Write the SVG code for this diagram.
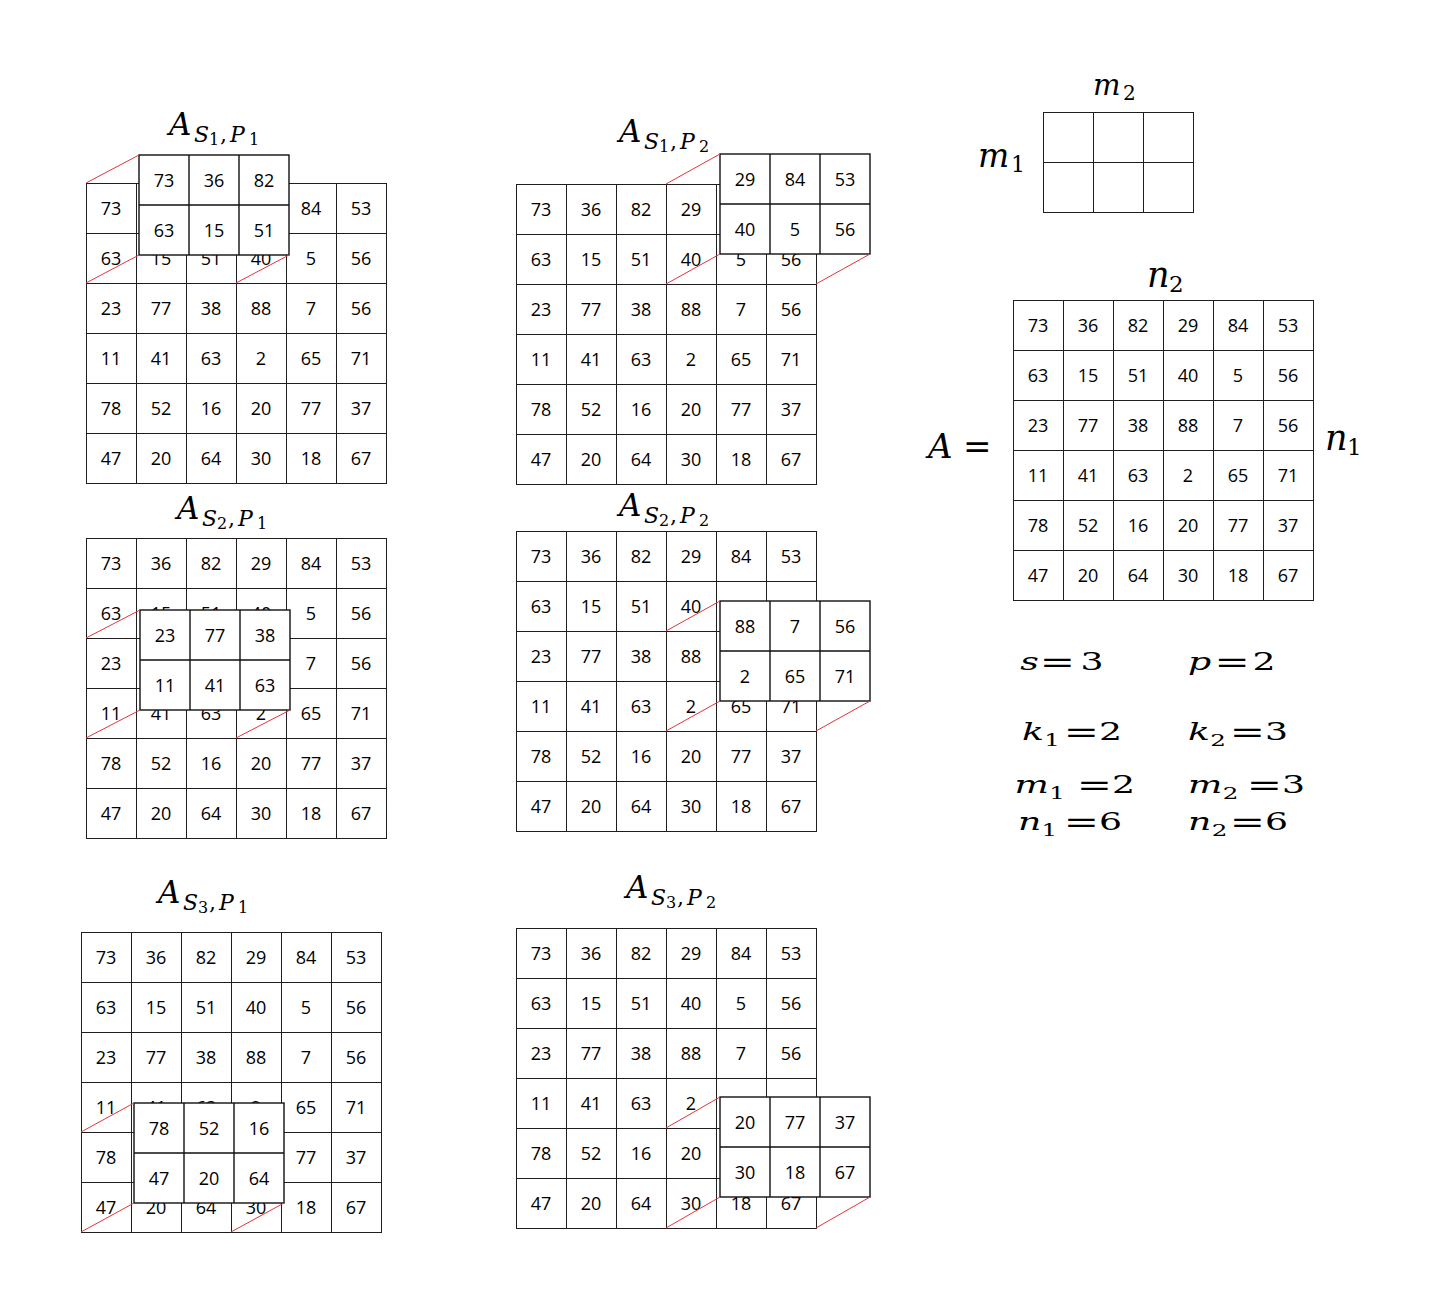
<svg xmlns="http://www.w3.org/2000/svg" width="1440" height="1301" viewBox="0 0 1440 1301">
<style>
.g{fill:none;stroke:#1e1e1e;stroke-width:1;shape-rendering:crispEdges}
.o{fill:#fff;stroke:#111;stroke-width:1.4}
.ol{fill:none;stroke:#111;stroke-width:1.4}
.c{font-family:'Open Sans','Liberation Sans',sans-serif;font-size:18px;text-anchor:middle;fill:#000}
.r{stroke:#e0353d;stroke-width:1;fill:none}
.mt{font-family:'DejaVu Serif',serif;fill:#000}
.i{font-style:italic}
</style>
<rect width="1440" height="1301" fill="#fff"/>

<!-- Titles -->
<g id="title-s1p1"><text class="mt" x="169" y="135"><tspan class="i" font-size="31">A</tspan><tspan class="i" font-size="22" x="194" y="142">S</tspan><tspan font-size="16" x="209" y="145">1</tspan><tspan font-size="22" x="220" y="142">,</tspan><tspan class="i" font-size="22" x="230" y="142">P</tspan><tspan font-size="16" x="249" y="145">1</tspan></text></g>
<g id="title-s1p2"><text class="mt" x="619" y="142"><tspan class="i" font-size="31">A</tspan><tspan class="i" font-size="22" x="644" y="149">S</tspan><tspan font-size="16" x="659" y="152">1</tspan><tspan font-size="22" x="670" y="149">,</tspan><tspan class="i" font-size="22" x="680" y="149">P</tspan><tspan font-size="16" x="699" y="152">2</tspan></text></g>
<g id="title-s2p1"><text class="mt" x="177" y="519"><tspan class="i" font-size="31">A</tspan><tspan class="i" font-size="22" x="202" y="526">S</tspan><tspan font-size="16" x="217" y="529">2</tspan><tspan font-size="22" x="228" y="526">,</tspan><tspan class="i" font-size="22" x="238" y="526">P</tspan><tspan font-size="16" x="257" y="529">1</tspan></text></g>
<g id="title-s2p2"><text class="mt" x="619" y="516"><tspan class="i" font-size="31">A</tspan><tspan class="i" font-size="22" x="644" y="523">S</tspan><tspan font-size="16" x="659" y="526">2</tspan><tspan font-size="22" x="670" y="523">,</tspan><tspan class="i" font-size="22" x="680" y="523">P</tspan><tspan font-size="16" x="699" y="526">2</tspan></text></g>
<g id="title-s3p1"><text class="mt" x="158" y="903"><tspan class="i" font-size="31">A</tspan><tspan class="i" font-size="22" x="183" y="910">S</tspan><tspan font-size="16" x="198" y="913">3</tspan><tspan font-size="22" x="209" y="910">,</tspan><tspan class="i" font-size="22" x="219" y="910">P</tspan><tspan font-size="16" x="238" y="913">1</tspan></text></g>
<g id="title-s3p2"><text class="mt" x="626" y="898"><tspan class="i" font-size="31">A</tspan><tspan class="i" font-size="22" x="651" y="905">S</tspan><tspan font-size="16" x="666" y="908">3</tspan><tspan font-size="22" x="677" y="905">,</tspan><tspan class="i" font-size="22" x="687" y="905">P</tspan><tspan font-size="16" x="706" y="908">2</tspan></text></g>

<!-- Grid S1,P1 -->
<g id="grid-s1p1">
<path class="g" d="M86 183h300v300h-300zM136 183v300M186 183v300M236 183v300M286 183v300M336 183v300M86 233h300M86 283h300M86 333h300M86 383h300M86 433h300"/>
<text class="c" x="111" y="215">73</text><text class="c" x="311" y="215">84</text><text class="c" x="361" y="215">53</text>
<text class="c" x="111" y="265">63</text><text class="c" x="161" y="265">15</text><text class="c" x="211" y="265">51</text><text class="c" x="261" y="265">40</text><text class="c" x="311" y="265">5</text><text class="c" x="361" y="265">56</text>
<text class="c" x="111" y="315">23</text><text class="c" x="161" y="315">77</text><text class="c" x="211" y="315">38</text><text class="c" x="261" y="315">88</text><text class="c" x="311" y="315">7</text><text class="c" x="361" y="315">56</text>
<text class="c" x="111" y="365">11</text><text class="c" x="161" y="365">41</text><text class="c" x="211" y="365">63</text><text class="c" x="261" y="365">2</text><text class="c" x="311" y="365">65</text><text class="c" x="361" y="365">71</text>
<text class="c" x="111" y="415">78</text><text class="c" x="161" y="415">52</text><text class="c" x="211" y="415">16</text><text class="c" x="261" y="415">20</text><text class="c" x="311" y="415">77</text><text class="c" x="361" y="415">37</text>
<text class="c" x="111" y="465">47</text><text class="c" x="161" y="465">20</text><text class="c" x="211" y="465">64</text><text class="c" x="261" y="465">30</text><text class="c" x="311" y="465">18</text><text class="c" x="361" y="465">67</text>
</g>
<g id="window-s1p1">
<rect class="o" x="139" y="155" width="150" height="100"/>
<path class="ol" d="M189 155v100M239 155v100M139 205h150"/>
<text class="c" x="164" y="187">73</text><text class="c" x="214" y="187">36</text><text class="c" x="264" y="187">82</text>
<text class="c" x="164" y="237">63</text><text class="c" x="214" y="237">15</text><text class="c" x="264" y="237">51</text>
</g>

<!-- Grid S1,P2 -->
<g id="grid-s1p2">
<path class="g" d="M516 184h300v300h-300zM566 184v300M616 184v300M666 184v300M716 184v300M766 184v300M516 234h300M516 284h300M516 334h300M516 384h300M516 434h300"/>
<text class="c" x="541" y="216">73</text><text class="c" x="591" y="216">36</text><text class="c" x="641" y="216">82</text><text class="c" x="691" y="216">29</text>
<text class="c" x="541" y="266">63</text><text class="c" x="591" y="266">15</text><text class="c" x="641" y="266">51</text><text class="c" x="691" y="266">40</text><text class="c" x="741" y="266">5</text><text class="c" x="791" y="266">56</text>
<text class="c" x="541" y="316">23</text><text class="c" x="591" y="316">77</text><text class="c" x="641" y="316">38</text><text class="c" x="691" y="316">88</text><text class="c" x="741" y="316">7</text><text class="c" x="791" y="316">56</text>
<text class="c" x="541" y="366">11</text><text class="c" x="591" y="366">41</text><text class="c" x="641" y="366">63</text><text class="c" x="691" y="366">2</text><text class="c" x="741" y="366">65</text><text class="c" x="791" y="366">71</text>
<text class="c" x="541" y="416">78</text><text class="c" x="591" y="416">52</text><text class="c" x="641" y="416">16</text><text class="c" x="691" y="416">20</text><text class="c" x="741" y="416">77</text><text class="c" x="791" y="416">37</text>
<text class="c" x="541" y="466">47</text><text class="c" x="591" y="466">20</text><text class="c" x="641" y="466">64</text><text class="c" x="691" y="466">30</text><text class="c" x="741" y="466">18</text><text class="c" x="791" y="466">67</text>
</g>
<g id="window-s1p2">
<rect class="o" x="720" y="154" width="150" height="100"/>
<path class="ol" d="M770 154v100M820 154v100M720 204h150"/>
<text class="c" x="745" y="186">29</text><text class="c" x="795" y="186">84</text><text class="c" x="845" y="186">53</text>
<text class="c" x="745" y="236">40</text><text class="c" x="795" y="236">5</text><text class="c" x="845" y="236">56</text>
</g>

<!-- Grid S2,P1 -->
<g id="grid-s2p1">
<path class="g" d="M86 538h300v300h-300zM136 538v300M186 538v300M236 538v300M286 538v300M336 538v300M86 588h300M86 638h300M86 688h300M86 738h300M86 788h300"/>
<text class="c" x="111" y="570">73</text><text class="c" x="161" y="570">36</text><text class="c" x="211" y="570">82</text><text class="c" x="261" y="570">29</text><text class="c" x="311" y="570">84</text><text class="c" x="361" y="570">53</text>
<text class="c" x="111" y="620">63</text><text class="c" x="161" y="620">15</text><text class="c" x="211" y="620">51</text><text class="c" x="261" y="620">40</text><text class="c" x="311" y="620">5</text><text class="c" x="361" y="620">56</text>
<text class="c" x="111" y="670">23</text><text class="c" x="311" y="670">7</text><text class="c" x="361" y="670">56</text>
<text class="c" x="111" y="720">11</text><text class="c" x="161" y="720">41</text><text class="c" x="211" y="720">63</text><text class="c" x="261" y="720">2</text><text class="c" x="311" y="720">65</text><text class="c" x="361" y="720">71</text>
<text class="c" x="111" y="770">78</text><text class="c" x="161" y="770">52</text><text class="c" x="211" y="770">16</text><text class="c" x="261" y="770">20</text><text class="c" x="311" y="770">77</text><text class="c" x="361" y="770">37</text>
<text class="c" x="111" y="820">47</text><text class="c" x="161" y="820">20</text><text class="c" x="211" y="820">64</text><text class="c" x="261" y="820">30</text><text class="c" x="311" y="820">18</text><text class="c" x="361" y="820">67</text>
</g>
<g id="window-s2p1">
<rect class="o" x="140" y="610" width="150" height="100"/>
<path class="ol" d="M190 610v100M240 610v100M140 660h150"/>
<text class="c" x="165" y="642">23</text><text class="c" x="215" y="642">77</text><text class="c" x="265" y="642">38</text>
<text class="c" x="165" y="692">11</text><text class="c" x="215" y="692">41</text><text class="c" x="265" y="692">63</text>
</g>

<!-- Grid S2,P2 -->
<g id="grid-s2p2">
<path class="g" d="M516 531h300v300h-300zM566 531v300M616 531v300M666 531v300M716 531v300M766 531v300M516 581h300M516 631h300M516 681h300M516 731h300M516 781h300"/>
<text class="c" x="541" y="563">73</text><text class="c" x="591" y="563">36</text><text class="c" x="641" y="563">82</text><text class="c" x="691" y="563">29</text><text class="c" x="741" y="563">84</text><text class="c" x="791" y="563">53</text>
<text class="c" x="541" y="613">63</text><text class="c" x="591" y="613">15</text><text class="c" x="641" y="613">51</text><text class="c" x="691" y="613">40</text>
<text class="c" x="541" y="663">23</text><text class="c" x="591" y="663">77</text><text class="c" x="641" y="663">38</text><text class="c" x="691" y="663">88</text>
<text class="c" x="541" y="713">11</text><text class="c" x="591" y="713">41</text><text class="c" x="641" y="713">63</text><text class="c" x="691" y="713">2</text><text class="c" x="741" y="713">65</text><text class="c" x="791" y="713">71</text>
<text class="c" x="541" y="763">78</text><text class="c" x="591" y="763">52</text><text class="c" x="641" y="763">16</text><text class="c" x="691" y="763">20</text><text class="c" x="741" y="763">77</text><text class="c" x="791" y="763">37</text>
<text class="c" x="541" y="813">47</text><text class="c" x="591" y="813">20</text><text class="c" x="641" y="813">64</text><text class="c" x="691" y="813">30</text><text class="c" x="741" y="813">18</text><text class="c" x="791" y="813">67</text>
</g>
<g id="window-s2p2">
<rect class="o" x="720" y="601" width="150" height="100"/>
<path class="ol" d="M770 601v100M820 601v100M720 651h150"/>
<text class="c" x="745" y="633">88</text><text class="c" x="795" y="633">7</text><text class="c" x="845" y="633">56</text>
<text class="c" x="745" y="683">2</text><text class="c" x="795" y="683">65</text><text class="c" x="845" y="683">71</text>
</g>

<!-- Grid S3,P1 -->
<g id="grid-s3p1">
<path class="g" d="M81 932h300v300h-300zM131 932v300M181 932v300M231 932v300M281 932v300M331 932v300M81 982h300M81 1032h300M81 1082h300M81 1132h300M81 1182h300"/>
<text class="c" x="106" y="964">73</text><text class="c" x="156" y="964">36</text><text class="c" x="206" y="964">82</text><text class="c" x="256" y="964">29</text><text class="c" x="306" y="964">84</text><text class="c" x="356" y="964">53</text>
<text class="c" x="106" y="1014">63</text><text class="c" x="156" y="1014">15</text><text class="c" x="206" y="1014">51</text><text class="c" x="256" y="1014">40</text><text class="c" x="306" y="1014">5</text><text class="c" x="356" y="1014">56</text>
<text class="c" x="106" y="1064">23</text><text class="c" x="156" y="1064">77</text><text class="c" x="206" y="1064">38</text><text class="c" x="256" y="1064">88</text><text class="c" x="306" y="1064">7</text><text class="c" x="356" y="1064">56</text>
<text class="c" x="106" y="1114">11</text><text class="c" x="156" y="1114">41</text><text class="c" x="206" y="1114">63</text><text class="c" x="256" y="1114">2</text><text class="c" x="306" y="1114">65</text><text class="c" x="356" y="1114">71</text>
<text class="c" x="106" y="1164">78</text><text class="c" x="306" y="1164">77</text><text class="c" x="356" y="1164">37</text>
<text class="c" x="106" y="1214">47</text><text class="c" x="156" y="1214">20</text><text class="c" x="206" y="1214">64</text><text class="c" x="256" y="1214">30</text><text class="c" x="306" y="1214">18</text><text class="c" x="356" y="1214">67</text>
</g>
<g id="window-s3p1">
<rect class="o" x="134" y="1103" width="150" height="100"/>
<path class="ol" d="M184 1103v100M234 1103v100M134 1153h150"/>
<text class="c" x="159" y="1135">78</text><text class="c" x="209" y="1135">52</text><text class="c" x="259" y="1135">16</text>
<text class="c" x="159" y="1185">47</text><text class="c" x="209" y="1185">20</text><text class="c" x="259" y="1185">64</text>
</g>

<!-- Grid S3,P2 -->
<g id="grid-s3p2">
<path class="g" d="M516 928h300v300h-300zM566 928v300M616 928v300M666 928v300M716 928v300M766 928v300M516 978h300M516 1028h300M516 1078h300M516 1128h300M516 1178h300"/>
<text class="c" x="541" y="960">73</text><text class="c" x="591" y="960">36</text><text class="c" x="641" y="960">82</text><text class="c" x="691" y="960">29</text><text class="c" x="741" y="960">84</text><text class="c" x="791" y="960">53</text>
<text class="c" x="541" y="1010">63</text><text class="c" x="591" y="1010">15</text><text class="c" x="641" y="1010">51</text><text class="c" x="691" y="1010">40</text><text class="c" x="741" y="1010">5</text><text class="c" x="791" y="1010">56</text>
<text class="c" x="541" y="1060">23</text><text class="c" x="591" y="1060">77</text><text class="c" x="641" y="1060">38</text><text class="c" x="691" y="1060">88</text><text class="c" x="741" y="1060">7</text><text class="c" x="791" y="1060">56</text>
<text class="c" x="541" y="1110">11</text><text class="c" x="591" y="1110">41</text><text class="c" x="641" y="1110">63</text><text class="c" x="691" y="1110">2</text>
<text class="c" x="541" y="1160">78</text><text class="c" x="591" y="1160">52</text><text class="c" x="641" y="1160">16</text><text class="c" x="691" y="1160">20</text>
<text class="c" x="541" y="1210">47</text><text class="c" x="591" y="1210">20</text><text class="c" x="641" y="1210">64</text><text class="c" x="691" y="1210">30</text><text class="c" x="741" y="1210">18</text><text class="c" x="791" y="1210">67</text>
</g>
<g id="window-s3p2">
<rect class="o" x="720" y="1097" width="150" height="100"/>
<path class="ol" d="M770 1097v100M820 1097v100M720 1147h150"/>
<text class="c" x="745" y="1129">20</text><text class="c" x="795" y="1129">77</text><text class="c" x="845" y="1129">37</text>
<text class="c" x="745" y="1179">30</text><text class="c" x="795" y="1179">18</text><text class="c" x="845" y="1179">67</text>
</g>

<!-- Kernel m1 x m2 -->
<g id="kernel">
<text class="mt" x="1093" y="95"><tspan class="i" font-size="29">m</tspan><tspan font-size="20" x="1123" y="100">2</tspan></text>
<text class="mt" x="978" y="167"><tspan class="i" font-size="33">m</tspan><tspan font-size="22" x="1011" y="172">1</tspan></text>
<path class="g" d="M1043 112h150v100h-150zM1093 112v100M1143 112v100M1043 162h150" stroke="#444"/>
</g>

<!-- Matrix A -->
<g id="matrix-A">
<text class="mt" x="928" y="458"><tspan class="i" font-size="34">A</tspan><tspan font-size="34" x="963" y="458">=</tspan></text>
<text class="mt" x="1147" y="287"><tspan class="i" font-size="35">n</tspan><tspan font-size="23" x="1169" y="292">2</tspan></text>
<text class="mt" x="1325" y="450"><tspan class="i" font-size="35">n</tspan><tspan font-size="23" x="1347" y="455">1</tspan></text>
<path class="g" d="M1013 300h300v300h-300zM1063 300v300M1113 300v300M1163 300v300M1213 300v300M1263 300v300M1013 350h300M1013 400h300M1013 450h300M1013 500h300M1013 550h300"/>
<text class="c" x="1038" y="332">73</text><text class="c" x="1088" y="332">36</text><text class="c" x="1138" y="332">82</text><text class="c" x="1188" y="332">29</text><text class="c" x="1238" y="332">84</text><text class="c" x="1288" y="332">53</text>
<text class="c" x="1038" y="382">63</text><text class="c" x="1088" y="382">15</text><text class="c" x="1138" y="382">51</text><text class="c" x="1188" y="382">40</text><text class="c" x="1238" y="382">5</text><text class="c" x="1288" y="382">56</text>
<text class="c" x="1038" y="432">23</text><text class="c" x="1088" y="432">77</text><text class="c" x="1138" y="432">38</text><text class="c" x="1188" y="432">88</text><text class="c" x="1238" y="432">7</text><text class="c" x="1288" y="432">56</text>
<text class="c" x="1038" y="482">11</text><text class="c" x="1088" y="482">41</text><text class="c" x="1138" y="482">63</text><text class="c" x="1188" y="482">2</text><text class="c" x="1238" y="482">65</text><text class="c" x="1288" y="482">71</text>
<text class="c" x="1038" y="532">78</text><text class="c" x="1088" y="532">52</text><text class="c" x="1138" y="532">16</text><text class="c" x="1188" y="532">20</text><text class="c" x="1238" y="532">77</text><text class="c" x="1288" y="532">37</text>
<text class="c" x="1038" y="582">47</text><text class="c" x="1088" y="582">20</text><text class="c" x="1138" y="582">64</text><text class="c" x="1188" y="582">30</text><text class="c" x="1238" y="582">18</text><text class="c" x="1288" y="582">67</text>
</g>

<!-- Parameters -->
<g id="params" transform="translate(1000 0) scale(1.45 1)">
<text class="mt" font-size="25" y="670"><tspan class="i" x="14">s</tspan><tspan font-size="29" x="27.4" y="672.4">=</tspan><tspan x="55.5" y="670">3</tspan></text>
<text class="mt" font-size="25" y="670"><tspan class="i" x="129.7">p</tspan><tspan font-size="29" x="148" y="672.4">=</tspan><tspan x="174.2" y="670">2</tspan></text>
<text class="mt" font-size="25" y="740"><tspan class="i" x="15.2">k</tspan><tspan font-size="17" x="30.5" y="746">1</tspan><tspan font-size="29" x="43.9" y="742.4">=</tspan><tspan x="68.3" y="740">2</tspan></text>
<text class="mt" font-size="25" y="740"><tspan class="i" x="129.7">k</tspan><tspan font-size="17" x="145" y="746">2</tspan><tspan font-size="29" x="158.4" y="742.4">=</tspan><tspan x="182.8" y="740">3</tspan></text>
<text class="mt" font-size="25" y="793"><tspan class="i" x="10">m</tspan><tspan font-size="17" x="34" y="799">1</tspan><tspan font-size="29" x="52.9" y="795.4">=</tspan><tspan x="77.3" y="793">2</tspan></text>
<text class="mt" font-size="25" y="793"><tspan class="i" x="129.7">m</tspan><tspan font-size="17" x="153.7" y="799">2</tspan><tspan font-size="29" x="170.1" y="795.4">=</tspan><tspan x="194.5" y="793">3</tspan></text>
<text class="mt" font-size="25" y="830"><tspan class="i" x="12.4">n</tspan><tspan font-size="17" x="28.6" y="836">1</tspan><tspan font-size="29" x="43.9" y="832.4">=</tspan><tspan x="68.3" y="830">6</tspan></text>
<text class="mt" font-size="25" y="830"><tspan class="i" x="129.7">n</tspan><tspan font-size="17" x="146" y="836">2</tspan><tspan font-size="29" x="158.4" y="832.4">=</tspan><tspan x="182.8" y="830">6</tspan></text>
</g>

<!-- Connectors: projection lines from window to shifted copy -->
<g id="connectors" class="r">
<path d="M86 183L139 155M86 283L139 255M236 283L289 255"/>
<path d="M666 184L720 154M666 284L720 254M816 284L870 254"/>
<path d="M86 638L140 610M86 738L140 710M236 738L290 710"/>
<path d="M666 631L720 601M666 731L720 701M816 731L870 701"/>
<path d="M81 1132L134 1103M81 1232L134 1203M231 1232L284 1203"/>
<path d="M666 1128L720 1097M666 1228L720 1197M816 1228L870 1197"/>
</g>
</svg>
